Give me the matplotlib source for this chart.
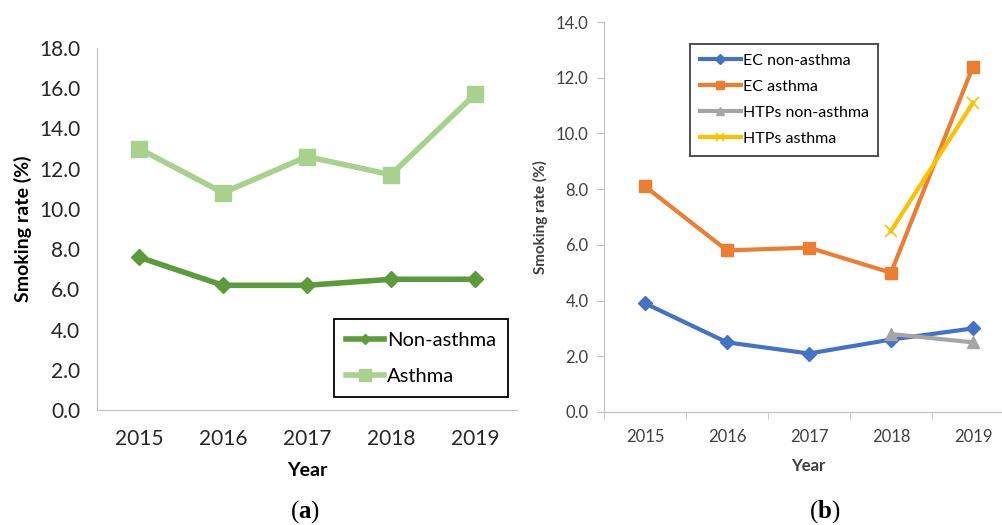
import matplotlib.pyplot as plt

years = ['2015', '2016', '2017', '2018', '2019']

# panel (a): conventional cigarettes
non_asthma = [7.6, 6.2, 6.2, 6.5, 6.5]
asthma = [13.0, 10.8, 12.6, 11.7, 15.7]

# panel (b): e-cigarettes and heated tobacco products
ec_non_asthma = [3.9, 2.5, 2.1, 2.6, 3.0]
ec_asthma = [8.1, 5.8, 5.9, 5.0, 12.4]
htp_years = ['2018', '2019']
htp_non_asthma = [2.8, 2.5]
htp_asthma = [6.5, 11.1]

plt.rcParams['font.family'] = ['Lato', 'DejaVu Sans']
plt.rcParams['mathtext.fontset'] = 'custom'
plt.rcParams['mathtext.bf'] = 'Liberation Serif:bold'
axis_grey = '#BFBFBF'
text_grey = '#404040'

fig = plt.figure(figsize=(10.02, 5.25), dpi=100)

# ---- (a)
ax1 = fig.add_axes([97 / 1002, 1 - 410 / 525, 420 / 1002, 362 / 525])
x = list(range(len(years)))
ax1.plot(x, non_asthma, color='#5B9B3A', lw=4, marker='D', ms=8, label='Non-asthma')
ax1.plot(x, asthma, color='#A9D18E', lw=4, marker='s', ms=12, label='Asthma')
ax1.set_xlim(-0.5, 4.5)
ax1.set_ylim(0, 18)
ax1.set_yticks([v * 2 for v in range(10)])
ax1.set_yticklabels(['%.1f' % (v * 2) for v in range(10)], fontsize=15, color='#262626')
ax1.set_xticks(x)
ax1.set_xticklabels(years, fontsize=15, color='#262626')
ax1.tick_params(length=0, pad=12)
ax1.tick_params(axis='x', pad=14)
for s in ['top', 'right']:
    ax1.spines[s].set_visible(False)
for s in ['left', 'bottom']:
    ax1.spines[s].set_color(axis_grey)
ax1.set_xlabel('Year', fontsize=14, fontweight='bold', labelpad=9)
ax1.set_ylabel('Smoking rate (%)', fontsize=14, fontweight='bold', labelpad=5)
leg1 = ax1.legend(loc='lower right', bbox_to_anchor=(0.979, 0.036), borderaxespad=0,
                  fontsize=14.5, fancybox=False, edgecolor='black', framealpha=1,
                  handlelength=1.9, handletextpad=0.15, labelspacing=0.95,
                  borderpad=0.6, markerscale=0.7)
leg1.get_frame().set_linewidth(1.3)

# ---- (b)
ax2 = fig.add_axes([604 / 1002, 1 - 412 / 525, 410 / 1002, 390 / 525])
hx = [years.index(y) for y in htp_years]
ax2.plot(x, ec_non_asthma, color='#4472C4', lw=3, marker='D', ms=7, label='EC non-asthma')
ax2.plot(x, ec_asthma, color='#ED7D31', lw=3, marker='s', ms=9, label='EC asthma')
ax2.plot(hx, htp_non_asthma, color='#A5A5A5', lw=3, marker='^', ms=9, label='HTPs non-asthma')
ax2.plot(hx, htp_asthma, color='#FFC000', lw=3, marker='x', ms=9, mew=1.2, label='HTPs asthma')
ax2.set_xlim(-0.5, 4.5)
ax2.set_ylim(0, 14)
ax2.set_yticks([v * 2 for v in range(8)])
ax2.set_yticklabels(['%.1f' % (v * 2) for v in range(8)], fontsize=12, color=text_grey)
ax2.set_xticks(x)
ax2.set_xticklabels(years, fontsize=12, color=text_grey)
ax2.set_xticks([i - 0.5 for i in range(len(years) + 1)], minor=True)
ax2.tick_params(axis='x', which='major', length=0, pad=12)
ax2.tick_params(axis='x', which='minor', length=5, color=axis_grey)
ax2.tick_params(axis='y', length=5, color=axis_grey, pad=6)
for s in ['top', 'right']:
    ax2.spines[s].set_visible(False)
for s in ['left', 'bottom']:
    ax2.spines[s].set_color(axis_grey)
ax2.set_xlabel('Year', fontsize=12, fontweight='bold', color=text_grey)
ax2.set_ylabel('Smoking rate (%)', fontsize=11, fontweight='bold', labelpad=6, color=text_grey)
ax2.xaxis.set_label_coords((808 - 604) / 410, -(458 - 412) / 390)
leg2 = ax2.legend(loc='upper left', bbox_to_anchor=(0.21, 0.944), borderaxespad=0,
                  fontsize=11.5, fancybox=False, edgecolor='#404040', framealpha=1,
                  handlelength=2.6, handletextpad=0.1, labelspacing=0.75,
                  borderpad=0.6, markerscale=0.7)
leg2.get_frame().set_linewidth(1.3)

# panel captions
fig.text(305 / 1002, 1 - 512 / 525, r'($\mathbf{a}$)', family='Liberation Serif',
         fontsize=18, ha='center', va='center')
fig.text(825 / 1002, 1 - 512 / 525, r'($\mathbf{b}$)', family='Liberation Serif',
         fontsize=18, ha='center', va='center')

fig.savefig('out.png', dpi=100)
